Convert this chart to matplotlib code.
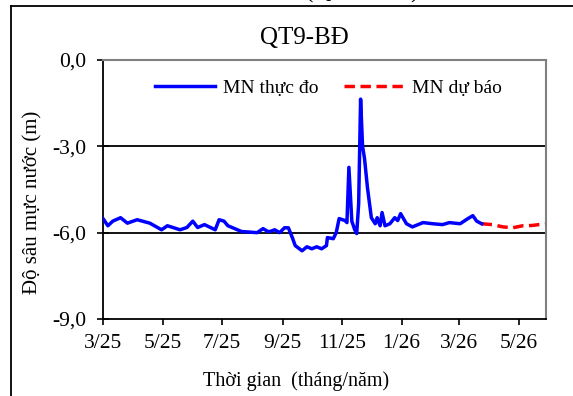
import matplotlib
matplotlib.use("Agg")
import matplotlib.pyplot as plt
import matplotlib.dates as mdates
from matplotlib.lines import Line2D
import numpy as np
import pandas as pd

plt.rcParams['font.family'] = ['Liberation Serif', 'DejaVu Serif']

title = "QT9-BĐ"
ylabel = "Độ sâu mực nước (m)"
xlabel = "Thời gian  (tháng/năm)"
label_obs = "MN thực đo"
label_fc = "MN dự báo"

obs_dates = ["2025-03-01", "2025-03-06", "2025-03-11", "2025-03-19", "2025-03-26",
             "2025-04-05", "2025-04-18", "2025-04-30", "2025-05-06", "2025-05-19",
             "2025-05-26", "2025-06-01", "2025-06-06", "2025-06-13", "2025-06-24",
             "2025-06-28", "2025-07-03", "2025-07-07", "2025-07-21", "2025-08-06",
             "2025-08-12", "2025-08-17", "2025-08-19", "2025-08-24", "2025-08-29",
             "2025-09-03", "2025-09-07", "2025-09-11", "2025-09-14", "2025-09-21",
             "2025-09-26", "2025-10-01", "2025-10-06", "2025-10-11", "2025-10-16",
             "2025-10-17", "2025-10-23", "2025-10-26", "2025-10-29", "2025-11-04",
             "2025-11-06", "2025-11-08", "2025-11-11", "2025-11-14", "2025-11-16",
             "2025-11-18", "2025-11-20", "2025-11-22", "2025-11-24", "2025-11-27",
             "2025-12-01", "2025-12-05", "2025-12-07", "2025-12-10", "2025-12-12",
             "2025-12-15", "2025-12-20", "2025-12-25", "2025-12-28", "2025-12-31",
             "2026-01-06", "2026-01-12", "2026-01-23", "2026-02-02", "2026-02-12",
             "2026-02-19", "2026-03-02", "2026-03-10", "2026-03-15", "2026-03-19",
             "2026-03-24"]
obs_values = [-5.51, -5.76, -5.60, -5.48, -5.67,
              -5.55, -5.67, -5.90, -5.76, -5.90,
              -5.82, -5.60, -5.82, -5.72, -5.90,
              -5.55, -5.60, -5.76, -5.96, -6.00,
              -5.86, -5.96, -5.96, -5.90, -6.00,
              -5.83, -5.83, -6.17, -6.45, -6.63,
              -6.49, -6.56, -6.49, -6.56, -6.45,
              -6.17, -6.21, -6.00, -5.51, -5.58,
              -5.65, -3.73, -5.60, -5.90, -6.03,
              -5.00, -1.36, -3.00, -3.42, -4.43,
              -5.48, -5.69, -5.48, -5.76, -5.30,
              -5.76, -5.69, -5.48, -5.58, -5.34,
              -5.69, -5.80, -5.65, -5.69, -5.72,
              -5.65, -5.69, -5.51, -5.41, -5.60,
              -5.69]

fc_dates = ["2026-03-24", "2026-04-04", "2026-04-15", "2026-04-25", "2026-05-05",
            "2026-05-15", "2026-05-28"]
fc_values = [-5.69, -5.72, -5.80, -5.83, -5.76, -5.75, -5.69]

yticks = [0, -3, -6, -9]
ytick_labels = ["0,0", "-3,0", "-6,0", "-9,0"]
xtick_dates = ["2025-03-01", "2025-05-01", "2025-07-01", "2025-09-01",
               "2025-11-01", "2026-01-01", "2026-03-01", "2026-05-01"]
xtick_labels = ["3/25", "5/25", "7/25", "9/25", "11/25", "1/26", "3/26", "5/26"]

W, H = 573, 396
fig = plt.figure(figsize=(W / 100, H / 100), dpi=100)
ax = fig.add_axes([103 / W, 1 - 319 / H, (546 - 103) / W, (319 - 60) / H])

od = pd.to_datetime(obs_dates)
fd = pd.to_datetime(fc_dates)
l1, = ax.plot(od, obs_values, color="#0000FF", lw=2.5, solid_joinstyle="round",
              label=label_obs, zorder=4)
l2, = ax.plot(fd, fc_values, color="#FF0000", lw=2.5, ls=(0, (3.0, 1.6)),
              label=label_fc, zorder=3)

ax.set_xlim(pd.Timestamp("2025-03-01"), pd.Timestamp("2026-05-29"))
ax.set_ylim(-9, 0)
ax.set_yticks(yticks)
ax.set_yticklabels(ytick_labels)
ax.set_xticks(pd.to_datetime(xtick_dates))
ax.set_xticklabels(xtick_labels)

for yv in [-3, -6]:
    ax.axhline(yv, color="black", lw=1.3, zorder=2)

ax.tick_params(axis="y", direction="inout", length=8.5, width=1.2, pad=8,
               labelsize=15.5, colors="black")
ax.tick_params(axis="x", direction="out", length=4.5, width=1.2, pad=6,
               labelsize=15.5, colors="black")

ax.spines["left"].set_color("black")
ax.spines["bottom"].set_color("black")
ax.spines["left"].set_linewidth(1.3)
ax.spines["bottom"].set_linewidth(1.3)
ax.spines["top"].set_color("#808080")
ax.spines["right"].set_color("#808080")
ax.spines["top"].set_linewidth(1.5)
ax.spines["right"].set_linewidth(1.5)

leg = ax.legend(handles=[l1, l2], loc="upper left", bbox_to_anchor=(0.074, 1.0),
                ncol=2, frameon=False, fontsize=14, handlelength=3.05,
                handletextpad=0.45, columnspacing=1.3, borderaxespad=0.6)

fig.text(304 / W, 1 - 44 / H, title, ha="center", va="baseline", fontsize=18)
fig.text(296 / W, 1 - 386 / H, xlabel, ha="center", va="baseline", fontsize=14.5)
fig.text(33 / W, 1 - 202 / H, ylabel, ha="center", va="center", rotation=90,
         fontsize=15)
fig.text(362 / W, 1 + 3 / H, "(Quan trắc)", ha="center", va="baseline", fontsize=18)

fig.add_artist(Line2D([11 / W, 11 / W], [0, 1 - 6 / H], color="black", lw=1.3,
                      transform=fig.transFigure))
fig.add_artist(Line2D([11 / W, 1], [1 - 6 / H, 1 - 6 / H], color="black", lw=1.3,
                      transform=fig.transFigure))

fig.savefig("out.png", dpi=100)
